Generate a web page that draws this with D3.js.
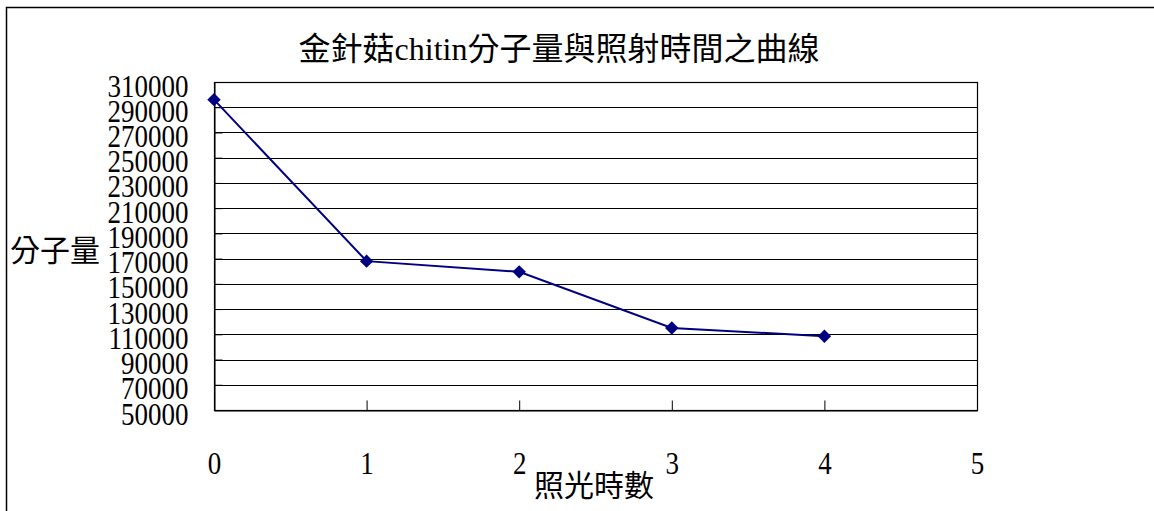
<!DOCTYPE html>
<html>
<head>
<meta charset="utf-8">
<script src="https://cdn.jsdelivr.net/npm/d3@7"></script>
<style>
  html, body { margin: 0; padding: 0; background: #fff; }
  svg { display: block; }
  .latin { font-family: "Liberation Serif", "Times New Roman", serif; }
  .cjk { font-family: "Liberation Serif", "Noto Sans CJK TC", serif; }
</style>
</head>
<body>
<svg id="chart" width="1154" height="511"></svg>
<script>
// Molecular weight of Flammulina chitin against irradiation time
const hours = [0, 1, 2, 3, 4];
const molWeight = [296000, 168000, 159500, 115000, 108500];
const xTicks = [0, 1, 2, 3, 4, 5];
const yTicks = [50000, 70000, 90000, 110000, 130000, 150000, 170000, 190000,
                210000, 230000, 250000, 270000, 290000, 310000];
const titleText = "金針菇chitin分子量與照射時間之曲線";
const yLabel = "分子量";
const xLabel = "照光時數";

const svg = d3.select("#chart");
const plot = { left: 214, top: 82, right: 977, bottom: 410 };

const x = d3.scaleLinear().domain([0, 5]).range([plot.left, plot.right]);
const y = d3.scaleLinear().domain([50000, 310000]).range([plot.bottom, plot.top]);

// outer chart frame
svg.append("rect")
  .attr("x", 6.5).attr("y", 7.5)
  .attr("width", 1200).attr("height", 600)
  .attr("fill", "#fff").attr("stroke", "#000").attr("stroke-width", 1.5);

// horizontal gridlines
svg.append("g").selectAll("line")
  .data(yTicks)
  .join("line")
  .attr("x1", plot.left).attr("x2", plot.right)
  .attr("y1", d => Math.round(y(d)) + 0.5)
  .attr("y2", d => Math.round(y(d)) + 0.5)
  .attr("stroke", "#000").attr("stroke-width", 1);

// plot area border
svg.append("rect")
  .attr("x", plot.left + 0.5).attr("y", Math.round(plot.top) + 0.5)
  .attr("width", plot.right - plot.left)
  .attr("height", plot.bottom - plot.top)
  .attr("fill", "none").attr("stroke", "#000").attr("stroke-width", 1.2);

// y axis with inward ticks
const yAxis = svg.append("g")
  .attr("transform", `translate(${plot.left + 0.5},0)`)
  .call(d3.axisLeft(y).tickValues(yTicks).tickFormat(d3.format("d"))
    .tickSize(-8).tickSizeOuter(0).tickPadding(26));
yAxis.select(".domain").attr("stroke", "#000");
yAxis.selectAll(".tick line").attr("stroke", "#000");
yAxis.selectAll(".tick text")
  .attr("class", "latin")
  .attr("x", null).attr("dy", null)
  .attr("transform", "translate(-26,14) scale(1,1.17)")
  .attr("font-size", 27).attr("fill", "#000");

// x axis with upward ticks, labels set well below the axis
const xAxis = svg.append("g")
  .attr("transform", `translate(0,${plot.bottom + 0.5})`)
  .call(d3.axisBottom(x).tickValues(xTicks).tickFormat(d3.format("d"))
    .tickSize(-10).tickSizeOuter(0));
xAxis.select(".domain").attr("stroke", "#000");
xAxis.selectAll(".tick line").attr("stroke", "#000");
xAxis.selectAll(".tick text")
  .attr("class", "latin")
  .attr("y", null).attr("dy", null)
  .attr("transform", "translate(0,63) scale(1,1.15)")
  .attr("font-size", 27).attr("fill", "#000");

// data line
const line = d3.line().x((d, i) => x(hours[i])).y(d => y(d));
svg.append("path")
  .datum(molWeight)
  .attr("d", line)
  .attr("fill", "none")
  .attr("stroke", "#000080")
  .attr("stroke-width", 2);

// diamond markers
const diamond = d3.symbol().type(d3.symbolSquare).size(90);
svg.append("g").selectAll("path")
  .data(molWeight)
  .join("path")
  .attr("d", diamond)
  .attr("transform", (d, i) => `translate(${x(hours[i])},${y(d)}) rotate(45)`)
  .attr("fill", "#000080");

// title
svg.append("text")
  .attr("class", "cjk")
  .attr("x", 559).attr("y", 60)
  .attr("text-anchor", "middle")
  .attr("font-size", 32)
  .attr("fill", "#000")
  .text(titleText);

// axis titles
svg.append("text")
  .attr("class", "cjk")
  .attr("x", 10).attr("y", 261)
  .attr("font-size", 30)
  .attr("fill", "#000")
  .text(yLabel);

svg.append("text")
  .attr("class", "cjk")
  .attr("x", 594).attr("y", 496)
  .attr("text-anchor", "middle")
  .attr("font-size", 30)
  .attr("fill", "#000")
  .text(xLabel);
</script>
</body>
</html>
